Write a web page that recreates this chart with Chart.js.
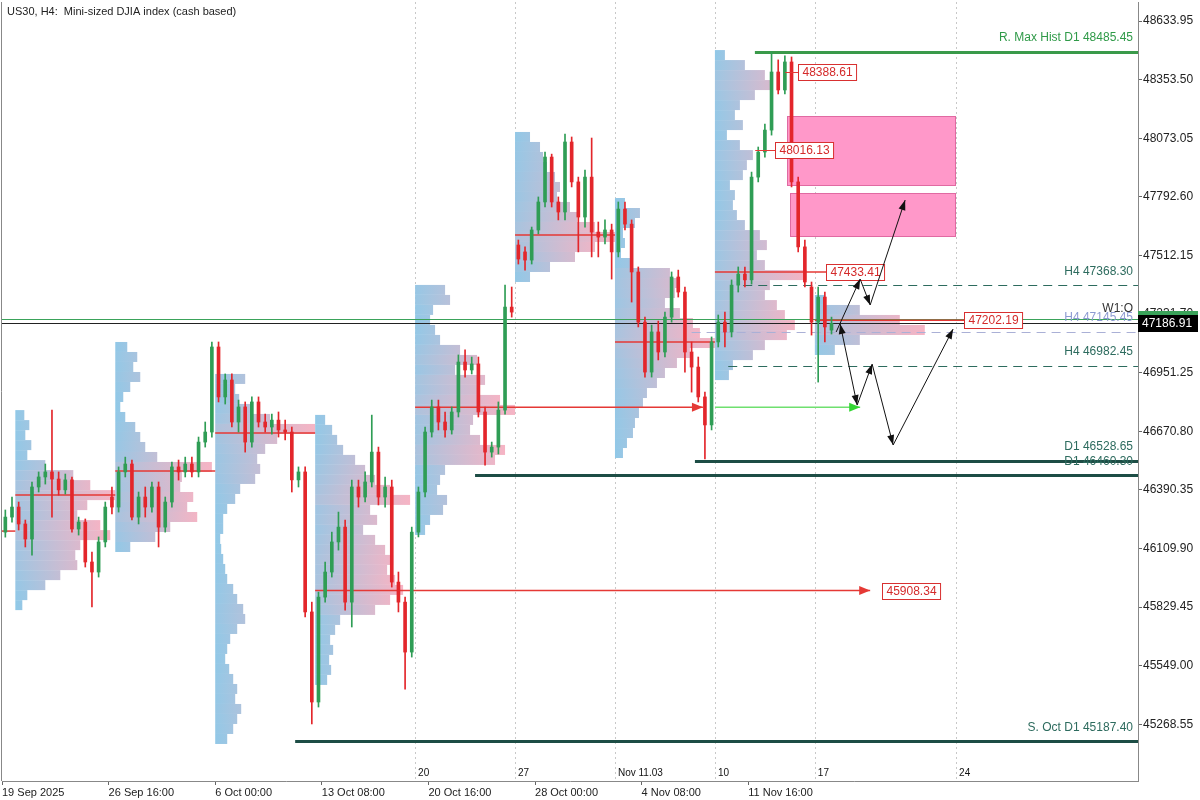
<!DOCTYPE html>
<html>
<head>
<meta charset="utf-8">
<script src="https://cdn.jsdelivr.net/npm/chart.js@4.4.1/dist/chart.umd.min.js"></script>
<style>
  html, body { margin: 0; padding: 0; background: #fff; }
  #wrap { width: 1200px; height: 800px; }
</style>
</head>
<body>
<div id="wrap"><canvas id="chart" width="1200" height="800"></canvas></div>
<script>
// H4 candles (every second bar of the picture), prices
const opens = [46188,46260,46308,46227,46155,46404,46452,46476,46442,46390,
  46438,46203,46236,46045,45997,46141,46356,46308,46476,46514,
  46260,46356,46308,46404,46212,46332,46500,46476,46514,46476,
  46619,46667,47074,46835,46916,46715,46787,46619,46811,46715,
  46691,46724,46677,46667,46438,46476,45806,45375,45877,45997,
  46141,46212,45853,46404,46356,46428,46571,46356,46404,45949,
  45853,45614,46188,46380,46667,46787,46715,46677,46763,47002,
  46964,46993,46763,46571,46595,46772,47265,47562,47529,47490,
  47634,47768,47983,47768,47720,48055,47864,47696,47887,47624,
  47600,47634,47529,47734,47662,47433,47193,46954,47146,47050,
  47217,47409,47337,47050,46978,46835,46701,47098,47193,47146,
  47370,47423,47395,47887,48007,48112,48390,48304,48438,47864,
  47553,47361,47193,47313,47155];
const highs = [46294,46356,46332,46246,46428,46476,46514,46772,46476,46466,
  46452,46260,46251,46093,46165,46332,46404,46500,46547,46533,
  46380,46404,46428,46428,46356,46523,46533,46547,46547,46643,
  46715,47098,47098,46945,46945,46820,46811,46835,46835,46753,
  46753,46763,46724,46691,46500,46500,45853,45901,46045,46188,
  46284,46246,46437,46437,46476,46748,46595,46452,46437,45997,
  45877,46212,46404,46691,46820,46820,46763,46787,47036,47060,
  47026,47026,46787,46619,46811,47370,47361,47586,47553,47648,
  47792,48007,47997,47792,48093,48079,47887,47921,48074,47672,
  47682,47662,47768,47768,47682,47457,47217,47179,47198,47241,
  47433,47442,47361,47098,47026,46858,47122,47227,47241,47395,
  47457,47457,47911,48031,48141,48486,48448,48467,48462,47887,
  47586,47385,47361,47337,47217];
const lows = [46164,46236,46198,46117,46078,46380,46418,46260,46365,46370,
  46188,46174,46021,45830,45973,46117,46275,46284,46452,46246,
  46227,46260,46284,46117,46188,46308,46437,46452,46452,46452,
  46595,46643,46811,46801,46691,46667,46571,46595,46691,46667,
  46657,46643,46629,46380,46404,45782,45270,45351,45853,45973,
  46102,45815,45734,46308,46332,46404,46318,46308,45925,45806,
  45437,45590,46165,46356,46643,46677,46643,46657,46739,46930,
  46945,46739,46509,46547,46562,46753,47217,47471,47442,47471,
  47615,47744,47744,47682,47682,47840,47529,47648,47505,47505,
  47567,47399,47505,47634,47289,47170,46930,46930,47012,47026,
  47193,47313,46954,46858,46811,46538,46677,47074,47074,47122,
  47337,47361,47375,47864,47983,48088,48285,48285,47840,47529,
  47361,47131,46906,47098,47136];
const closes = [46260,46308,46227,46155,46404,46452,46476,46442,46390,46438,
  46203,46236,46045,45997,46141,46308,46308,46476,46514,46260,
  46356,46308,46404,46212,46332,46500,46476,46514,46476,46619,
  46667,47074,46835,46916,46715,46787,46619,46811,46715,46691,
  46724,46677,46667,46438,46476,45806,45375,45877,45997,46141,
  46212,45853,46404,46356,46428,46571,46356,46404,45949,45853,
  45614,46188,46380,46667,46787,46715,46677,46763,47002,46964,
  46993,46763,46571,46595,46772,47265,47241,47495,47490,47634,
  47768,47983,47768,47720,48055,47864,47696,47887,47624,47600,
  47634,47529,47734,47662,47433,47193,46954,47146,47050,47217,
  47409,47337,47050,46978,46835,46701,47098,47193,47146,47370,
  47423,47395,47887,48007,48112,48390,48304,48438,47864,47553,
  47385,47193,47313,47170,47186.91];

// axis ticks
const priceTicks = [45268.55,45549.00,45829.45,46109.90,46390.35,46670.80,46951.25,47231.70,47512.15,47792.60,48073.05,48353.50,48633.95];
const timeTickIdx = [-1,31,63,95,127,159,191,223];
const timeLabels = ["19 Sep 2025","26 Sep 16:00","6 Oct 00:00","13 Oct 08:00","20 Oct 16:00","28 Oct 00:00","4 Nov 08:00","11 Nov 16:00"];
const weekIdx = [123,153,183,213,243,285.4];
const weekLabels = ["20","27","Nov 11.03","10","17","24"];

// weekly volume profiles: start bar, top price, row lengths (in bars)
const profileStarts = [3,33,63,93,123,153,183,213,243];
const profileTops = [46772,47098,46945,46749,47371,48103,47787,48495,47323];
const profileStep = 47.86;
const volP0 = [2.7,4.2,3,4.8,3.6,9,17.4,22.5,30,21.6,18.6,25.5,28.5,19.5,18,18.6,13.5,9,3.6,2.1];
const volP1 = [3.6,6.6,5.4,7.5,4.5,2.4,1.5,3,6,7.5,9,12.6,29,20,19.5,23.4,21.6,24.6,16.5,12,4.5];
const volP2 = [9,6,7.2,10.5,16.5,30,18.6,15,12.6,13.5,12,7.5,6,3.6,2.4,2.4,1.5,1.8,2.4,3,3.6,5.4,6.6,8.4,9,6.6,4.5,3.6,3,4.2,5.4,6.6,6,7.8,6.6,5.4,3.6];
const volP3 = [3,5.1,6.6,8.4,12,15,18,22.5,28.5,16.5,18.6,14.4,18,21,23.4,21.6,24,26.4,22.5,18,7.5,6,4.5,5.4,4.2,4.8,3.6];
const volP4 = [9,10.5,5.4,4.5,6,7.5,13.5,18.6,12,21,19.5,25.5,30,17.4,16.5,19.5,27,24,9,7.5,6.6,9.6,8.4,4.5,3];
const volP5 = [4.5,7.5,8.4,9.6,12,13.5,12.6,16.5,18.6,24,30,24,18,10.5,4.5];
const volP6 = [3,7.5,6,2.4,3,1.8,4.5,16.5,19.5,18,15,19.5,23.4,25.5,30,22.5,18.6,15,12.6,9.6,8.4,7.2,6,5.4,3.6,2.4];
const volP7 = [3,9,15,17.4,12,7.5,6,8.4,3.6,7.5,11.4,9.6,8.4,4.5,6,5.4,6.6,9,13.5,15.6,12.6,15,27.6,16.5,15,18.6,21,24,21.6,15,11.4,5.4,4.2];
const volP8 = [3,13.5,25.5,33,13.5,6];
const profiles = [volP0,volP1,volP2,volP3,volP4,volP5,volP6,volP7,volP8];

// point of control lines
const pocPrices = [46193,46366,46481,46662,45908.34,46786,47610,47098,47433.41,47202.19];
const pocFrom = [-1,3,33,63,93,123,153,183,213,243];
const pocTo = [3,33,63,93,259.6,209.4,183,213,246.4,287.8];

// support / resistance levels
const levelNames = ["R. Max Hist D1 48485.45","H4 47368.30","H4 47145.45","H4 46982.45","D1 46528.65","D1 46460.30","S. Oct D1 45187.40"];
const levelPrices = [48485.45,47368.30,47145.45,46982.45,46528.65,46460.30,45187.40];
const levelFrom = [225,221.5,206,217,207,141,87];

// supply zones
const zoneFrom = [234.7,235.6];
const zoneTo = [285.1,285.1];
const zoneHigh = [48179,47811];
const zoneLow = [47849,47605];

// price tags
const tagPrices = [48388.61,48016.13,47433.41,47202.19,45908.34];
const tagIdx = [238,231.1,246.4,287.8,263.2];
const tagLineFrom = [234.1,225.1,null,null,null];

// scenario paths
const pathA_x = [249.4,256.6,259.6,270.1];
const pathA_y = [47146,47399,47275,47777];
const pathB_x = [250.6,255.7,260.2,266.5,284.5];
const pathB_y = [47184,46796,46992,46605,47160];

const weekOpen = 47206;
const lastPrice = 47186.91;

const GREEN = '#2f9d55', RED = '#e3262b';
const candleX = opens.map((_, k) => 2 * k);
const candleColors = opens.map((o, k) => closes[k] >= o ? GREEN : RED);

function mix(t) {
  const a = [142, 201, 232], b = [246, 180, 196];
  const c = a.map((v, i) => Math.round(v + (b[i] - v) * t));
  return `rgb(${c[0]},${c[1]},${c[2]})`;
}

function arrowHead(ctx, x0, y0, x1, y1, len, wid, color) {
  const ang = Math.atan2(y1 - y0, x1 - x0);
  ctx.fillStyle = color;
  ctx.beginPath();
  ctx.moveTo(x1, y1);
  ctx.lineTo(x1 - len * Math.cos(ang) + wid / 2 * Math.sin(ang), y1 - len * Math.sin(ang) - wid / 2 * Math.cos(ang));
  ctx.lineTo(x1 - len * Math.cos(ang) - wid / 2 * Math.sin(ang), y1 - len * Math.sin(ang) + wid / 2 * Math.cos(ang));
  ctx.closePath();
  ctx.fill();
}

const FONT = '"Liberation Sans", Arial, sans-serif';

const overlay = {
  id: 'overlay',
  beforeDatasetsDraw(chart) {
    const { ctx, chartArea: a, scales: { x, y } } = chart;
    ctx.save();
    ctx.beginPath();
    ctx.rect(a.left, a.top, a.right - a.left, a.bottom - a.top);
    ctx.clip();

    // week separators
    ctx.strokeStyle = '#c8c8c8';
    ctx.lineWidth = 1;
    ctx.setLineDash([2, 3]);
    weekIdx.forEach(w => {
      const xp = Math.round(x.getPixelForValue(w)) + 0.5;
      ctx.beginPath(); ctx.moveTo(xp, a.top); ctx.lineTo(xp, a.bottom); ctx.stroke();
    });
    ctx.setLineDash([]);

    // volume profiles
    profiles.forEach((vols, p) => {
      const maxV = Math.max(...vols);
      const x0 = x.getPixelForValue(profileStarts[p]);
      vols.forEach((v, i) => {
        const yt = y.getPixelForValue(profileTops[p] - i * profileStep);
        const yb = y.getPixelForValue(profileTops[p] - (i + 1) * profileStep);
        const x1 = x.getPixelForValue(profileStarts[p] + v);
        const t = v / maxV;
        const g = ctx.createLinearGradient(x0, 0, x1, 0);
        g.addColorStop(0, mix(t * 0.3));
        g.addColorStop(1, mix(Math.min(1, t * 1.15)));
        ctx.fillStyle = g;
        ctx.fillRect(x0, yt, x1 - x0, yb - yt);
      });
    });

    // supply zones
    zoneFrom.forEach((f, i) => {
      const x0 = x.getPixelForValue(f), x1 = x.getPixelForValue(zoneTo[i]);
      const y0 = y.getPixelForValue(zoneHigh[i]), y1 = y.getPixelForValue(zoneLow[i]);
      ctx.fillStyle = '#ff98c9';
      ctx.fillRect(x0, y0, x1 - x0, y1 - y0);
      ctx.strokeStyle = '#e06aa2';
      ctx.strokeRect(Math.round(x0) + 0.5, Math.round(y0) + 0.5, Math.round(x1 - x0), Math.round(y1 - y0));
    });

    // week open and last price lines
    let yp = Math.round(y.getPixelForValue(weekOpen)) + 0.5;
    ctx.strokeStyle = '#3aa35a'; ctx.lineWidth = 1;
    ctx.beginPath(); ctx.moveTo(a.left, yp); ctx.lineTo(a.right, yp); ctx.stroke();
    yp = Math.round(y.getPixelForValue(lastPrice)) + 0.5;
    ctx.strokeStyle = '#222';
    ctx.beginPath(); ctx.moveTo(a.left, yp); ctx.lineTo(a.right, yp); ctx.stroke();

    // levels
    const lvlStyle = [
      { c: '#3a9a4a', w: 3, d: [] },
      { c: '#2d6b5e', w: 1, d: [9, 6] },
      { c: '#aab0d6', w: 1, d: [9, 6] },
      { c: '#2d6b5e', w: 1, d: [9, 6] },
      { c: '#1d4d45', w: 3, d: [] },
      { c: '#1d4d45', w: 3, d: [] },
      { c: '#1d4d45', w: 3, d: [] }
    ];
    levelPrices.forEach((p, i) => {
      const s = lvlStyle[i];
      const yv = Math.round(y.getPixelForValue(p)) + (s.w % 2 ? 0.5 : 0);
      ctx.strokeStyle = s.c; ctx.lineWidth = s.w; ctx.setLineDash(s.d);
      ctx.beginPath(); ctx.moveTo(x.getPixelForValue(levelFrom[i]), yv); ctx.lineTo(a.right, yv); ctx.stroke();
    });
    ctx.setLineDash([]);

    // POC lines
    ctx.strokeStyle = '#e53935'; ctx.lineWidth = 1.5;
    pocPrices.forEach((p, i) => {
      const yv = y.getPixelForValue(p);
      ctx.beginPath(); ctx.moveTo(x.getPixelForValue(pocFrom[i]), yv); ctx.lineTo(x.getPixelForValue(pocTo[i]), yv); ctx.stroke();
    });
    // green retest line
    const gy = y.getPixelForValue(pocPrices[5]);
    ctx.strokeStyle = '#6fe06f'; ctx.lineWidth = 1.5;
    ctx.beginPath(); ctx.moveTo(x.getPixelForValue(213), gy); ctx.lineTo(x.getPixelForValue(256.6), gy); ctx.stroke();
    ctx.restore();
  },
  afterDatasetsDraw(chart) {
    const { ctx, chartArea: a, scales: { x, y } } = chart;
    ctx.save();
    ctx.beginPath();
    ctx.rect(a.left, a.top, a.right - a.left, a.bottom - a.top);
    ctx.clip();

    // arrow heads for extended POCs
    let yy = y.getPixelForValue(pocPrices[4]);
    arrowHead(ctx, 0, yy, x.getPixelForValue(259.6), yy, 11, 9, '#e53935');
    yy = y.getPixelForValue(pocPrices[5]);
    arrowHead(ctx, 0, yy, x.getPixelForValue(209.4), yy, 11, 9, '#e53935');
    arrowHead(ctx, 0, yy, x.getPixelForValue(256.6), yy, 11, 9, '#33d633');

    // short connector lines for tags
    ctx.strokeStyle = '#e53935'; ctx.lineWidth = 1;
    tagLineFrom.forEach((f, i) => {
      if (f === null) return;
      const ty = Math.round(y.getPixelForValue(tagPrices[i])) + 0.5;
      ctx.beginPath(); ctx.moveTo(x.getPixelForValue(f), ty); ctx.lineTo(x.getPixelForValue(tagIdx[i]), ty); ctx.stroke();
    });

    // price tags
    ctx.font = '12px ' + FONT;
    ctx.textBaseline = 'middle';
    tagPrices.forEach((p, i) => {
      const txt = p.toFixed(2);
      const w = ctx.measureText(txt).width + 8;
      const bx = Math.round(x.getPixelForValue(tagIdx[i])) + 0.5;
      const by = Math.round(y.getPixelForValue(p)) - 7.5;
      ctx.fillStyle = '#fff';
      ctx.fillRect(bx, by, w, 16);
      ctx.strokeStyle = '#d83030';
      ctx.strokeRect(bx, by, w, 16);
      ctx.fillStyle = '#d42a2a';
      ctx.textAlign = 'left';
      ctx.fillText(txt, bx + 4, by + 8.5);
    });

    // scenario arrows
    [[pathA_x, pathA_y], [pathB_x, pathB_y]].forEach(([xs, ys]) => {
      const pts = xs.map((v, i) => [x.getPixelForValue(v), y.getPixelForValue(ys[i])]);
      ctx.strokeStyle = '#111'; ctx.lineWidth = 1;
      ctx.beginPath();
      pts.forEach((pt, i) => i ? ctx.lineTo(pt[0], pt[1]) : ctx.moveTo(pt[0], pt[1]));
      ctx.stroke();
      for (let i = 1; i < pts.length; i++) {
        arrowHead(ctx, pts[i - 1][0], pts[i - 1][1], pts[i][0], pts[i][1], 10, 7, '#111');
      }
    });
    const b0 = [x.getPixelForValue(pathB_x[1]), y.getPixelForValue(pathB_y[1])];
    arrowHead(ctx, b0[0], b0[1], x.getPixelForValue(pathB_x[0]), y.getPixelForValue(pathB_y[0]), 10, 7, '#111');

    // level labels
    const lblColor = ['#2f9a48', '#2d6b5e', '#8d9bd2', '#2d6b5e', '#2d6b5e', '#2d6b5e', '#2d6b5e'];
    ctx.font = '12px ' + FONT;
    ctx.textAlign = 'right';
    ctx.textBaseline = 'middle';
    levelNames.forEach((n, i) => {
      ctx.fillStyle = lblColor[i];
      ctx.fillText(n, a.right - 5, y.getPixelForValue(levelPrices[i]) - 14);
    });
    ctx.fillStyle = '#333';
    ctx.fillText('W1:O', a.right - 5, y.getPixelForValue(weekOpen) - 11);

    // week labels
    ctx.font = '10px ' + FONT;
    ctx.textAlign = 'left';
    ctx.fillStyle = '#111';
    weekIdx.forEach((w, i) => {
      ctx.fillText(weekLabels[i], x.getPixelForValue(w) + 3, a.bottom - 8);
    });

    // title
    ctx.font = '11px ' + FONT;
    ctx.fillStyle = '#222';
    ctx.fillText('US30, H4:  Mini-sized DJIA index (cash based)', a.left + 5, 12);
    ctx.restore();
  },
  afterDraw(chart) {
    const { ctx, chartArea: a, scales: { y } } = chart;
    ctx.save();
    // frame
    ctx.strokeStyle = '#888'; ctx.lineWidth = 1;
    ctx.beginPath();
    ctx.moveTo(a.left - 0.5, a.top); ctx.lineTo(a.left - 0.5, a.bottom);
    ctx.stroke();
    // axis price boxes
    const gy = Math.round(y.getPixelForValue(weekOpen));
    ctx.fillStyle = '#3aa35a';
    ctx.fillRect(a.right, gy - 8, 60, 16);
    const by = Math.round(y.getPixelForValue(lastPrice));
    ctx.fillStyle = '#000';
    ctx.fillRect(a.right, by - 8, 60, 17);
    ctx.font = '12px ' + FONT;
    ctx.fillStyle = '#fff';
    ctx.textAlign = 'left';
    ctx.textBaseline = 'middle';
    ctx.fillText(lastPrice.toFixed(2), a.right + 4, by + 1);
    ctx.restore();
  }
};

new Chart(document.getElementById('chart'), {
  type: 'bar',
  data: {
    datasets: [
      {
        label: 'wick',
        data: candleX.map((v, k) => ({ x: v, y: [lows[k], highs[k]] })),
        backgroundColor: candleColors,
        barThickness: 1,
        grouped: false,
        order: 2
      },
      {
        label: 'body',
        data: candleX.map((v, k) => ({ x: v, y: [opens[k], closes[k]] })),
        backgroundColor: candleColors,
        barThickness: 3,
        minBarLength: 1,
        grouped: false,
        order: 1
      }
    ]
  },
  options: {
    responsive: false,
    animation: false,
    devicePixelRatio: 1,
    events: [],
    layout: { padding: { left: 2, top: 2, right: 0, bottom: 0 } },
    plugins: { legend: { display: false }, tooltip: { enabled: false } },
    scales: {
      x: {
        type: 'linear',
        min: -1,
        max: 340,
        offset: false,
        grid: { display: true, drawOnChartArea: false, drawTicks: true, tickLength: 4, color: '#666', offset: false },
        border: { display: true, color: '#888' },
        afterBuildTicks: s => { s.ticks = timeTickIdx.map(v => ({ value: v })); },
        afterFit: s => { s.height = 19; s.paddingLeft = 0; s.paddingRight = 0; },
        ticks: {
          autoSkip: false, maxRotation: 0, align: 'start', padding: 1,
          color: '#222', font: { family: FONT, size: 11 },
          callback: (v, i) => timeLabels[i]
        }
      },
      y: {
        type: 'linear',
        position: 'right',
        min: 44997,
        max: 48725,
        grid: { display: true, drawOnChartArea: false, drawTicks: true, tickLength: 4, color: '#666' },
        border: { display: true, color: '#888' },
        afterBuildTicks: s => { s.ticks = priceTicks.map(v => ({ value: v })); },
        afterFit: s => { s.width = 62; s.paddingTop = 0; s.paddingBottom = 0; },
        ticks: {
          padding: 1, color: '#222', font: { family: FONT, size: 12 },
          callback: v => Number(v).toFixed(2)
        }
      }
    }
  },
  plugins: [overlay]
});
</script>
</body>
</html>
